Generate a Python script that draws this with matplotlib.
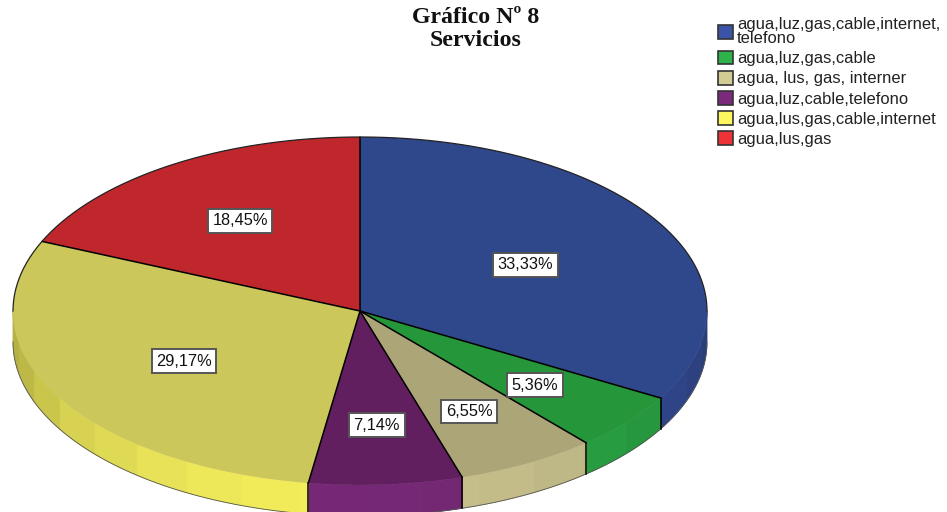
import numpy as np
import matplotlib
matplotlib.use('Agg')
import matplotlib.pyplot as plt
from matplotlib.patches import Patch

categories = ['agua,luz,gas,cable,internet,\ntelefono', 'agua,luz,gas,cable', 'agua, lus, gas, interner',
              'agua,luz,cable,telefono', 'agua,lus,gas,cable,internet', 'agua,lus,gas']
values = [33.33, 5.36, 6.55, 7.14, 29.17, 18.45]
value_labels = ['33,33%', '5,36%', '6,55%', '7,14%', '29,17%', '18,45%']

top_colors = ['#2f478b', '#25963a', '#aba577', '#611f60', '#cbc75a', '#c0272d']
legend_colors = ['#3a55a6', '#2db34a', '#d2cb94', '#7b2a7b', '#fdf75f', '#ee3338']
label_r = [0.55, 0.655, 0.65, 0.65, 0.58, 0.63]

W, H = 947, 512
cx, cy, rx, ry, depth = 360, 311, 347, 174, 31

fig = plt.figure(figsize=(W / 100, H / 100), dpi=100)
ax = fig.add_axes([0, 0, 1, 1])

# wedge boundaries, clockwise from 12 o'clock
bounds = np.concatenate([[0], np.cumsum(values)]) / sum(values) * 360
d = depth / ry

# side of the pie, in bands like the original
shade_a = [90, 100, 130, 150, 170, 190, 210, 235, 255, 270]
shade_f = [.70, .75, .86, .92, .95, .96, .93, .85, .75, .70]
grid = np.arange(90, 271, 10)
for i in range(len(values)):
    a0, a1 = max(bounds[i], 90), min(bounds[i + 1], 270)
    if a1 <= a0:
        continue
    edges = np.unique(np.concatenate([[a0], grid[(grid > a0) & (grid < a1)], [a1]]))
    for b0, b1 in zip(edges[:-1], edges[1:]):
        t = np.radians(np.linspace(b0, b1, 12))
        xs = np.concatenate([np.sin(t), np.sin(t[::-1])])
        ys = np.concatenate([np.cos(t), np.cos(t[::-1]) - d])
        f = np.interp((b0 + b1) / 2, shade_a, shade_f)
        col = np.array(matplotlib.colors.to_rgb(legend_colors[i])) * f
        ax.fill(xs, ys, color=col, lw=0.6, zorder=1)

# bottom rim of the side
t = np.radians(np.linspace(90, 270, 200))
ax.plot(np.sin(t), np.cos(t) - d, color='#555555', lw=0.6, zorder=2)

# top surface
wedges, _ = ax.pie(values, colors=top_colors, startangle=90, counterclock=False, radius=1,
                   wedgeprops={'linewidth': 0})
for w in wedges:
    w.set_zorder(3)

# slice lines on the top and down the side
for b in bounds[:-1]:
    r = np.radians(b)
    ax.plot([0, np.sin(r)], [0, np.cos(r)], color='black', lw=1.1, zorder=4, solid_capstyle='round')
    if 90 <= b <= 270:
        ax.plot([np.sin(r), np.sin(r)], [np.cos(r), np.cos(r) - d], color='black', lw=1.1, zorder=4)
t = np.radians(np.linspace(-90, 90, 200))
ax.plot(np.sin(t), np.cos(t), color='#222222', lw=0.9, zorder=4)

# value labels
mids = (bounds[:-1] + bounds[1:]) / 2
for m, r, lab in zip(np.radians(mids), label_r, value_labels):
    ax.text(r * np.sin(m), r * np.cos(m), lab, ha='center', va='center_baseline', fontsize=11.8,
            family='Liberation Sans', color='#111111', zorder=5,
            bbox={'boxstyle': 'square,pad=0.27', 'fc': 'white', 'ec': '#555555', 'lw': 1.4})

ax.set_aspect('auto')
ax.set_xlim(-cx / rx, (W - cx) / rx)
ax.set_ylim((cy - H) / ry, cy / ry)
ax.axis('off')

fig.text(476 / W, 1 - 29 / H, 'Gráfico Nº 8\nServicios', ha='center', va='center', fontsize=17.2,
         family='Liberation Serif', fontweight='bold', color='#111111', linespacing=1.14)

handles = [Patch(facecolor=c, edgecolor='#333333', lw=1.2) for c in legend_colors]
leg = fig.legend(handles, categories, loc='upper left', bbox_to_anchor=(718 / W, 1 - 17 / H), frameon=False,
                 prop={'family': 'Liberation Sans', 'size': 11.9}, handlelength=0.9, handleheight=0.9,
                 handletextpad=0.25, labelspacing=0.28, borderpad=0, borderaxespad=0)
for txt in leg.get_texts():
    txt.set_linespacing(0.92)
    txt.set_color('#222222')

fig.savefig('out.png', dpi=100)
